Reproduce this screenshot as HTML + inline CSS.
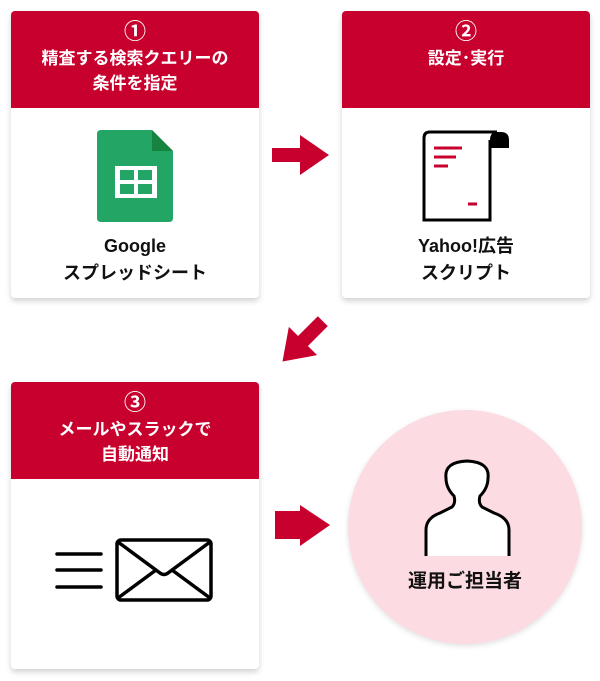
<!DOCTYPE html>
<html><head><meta charset="utf-8"><style>
body{margin:0;width:600px;height:681px;background:#fff;position:relative;overflow:hidden;font-family:"Liberation Sans","Noto Sans CJK JP",sans-serif;}
.card{position:absolute;width:248px;height:287px;background:#fff;border-radius:4px;box-shadow:0 3px 6px rgba(0,0,0,.18);overflow:hidden}
.hd{height:97px;background:#c8002d;color:#fff;font-weight:bold;font-size:17px;line-height:25px;text-align:center;box-sizing:border-box;padding-top:8px}
.hd .n{font-size:22px;line-height:25px}
.lbl{position:absolute;left:0;width:100%;text-align:center;font-weight:bold;font-size:18px;line-height:27px;color:#111}
svg{position:absolute}
</style></head><body>
<div class="card" style="left:11px;top:11px">
 <div class="hd"><span class="n">①</span><br>精査する検索クエリーの<br>条件を指定</div>
 <div class="lbl" style="top:222px">Google<br>スプレッドシート</div>
</div>
<div class="card" style="left:342px;top:11px">
 <div class="hd"><span class="n">②</span><br>設定･実行</div>
 <div class="lbl" style="top:222px">Yahoo!広告<br>スクリプト</div>
</div>
<div class="card" style="left:11px;top:382px">
 <div class="hd"><span class="n">③</span><br>メールやスラックで<br>自動通知</div>
</div>
<div style="position:absolute;left:348px;top:410px;width:234px;height:234px;border-radius:50%;background:#fcdbe2;box-shadow:0 2px 6px rgba(0,0,0,.12)"></div>
<div class="lbl" style="top:568px;left:348px;width:234px;font-size:19px">運用ご担当者</div>
<svg width="600" height="681" style="left:0;top:0">
 <path d="M100 130 H152 L173 151 V218 Q173 222 169 222 H101 Q97 222 97 218 V134 Q97 130 101 130Z" fill="#23a566"/>
 <path d="M152 130 L173 151 H152Z" fill="#16843f"/>
 <rect x="115" y="166" width="42" height="32" fill="#fff"/>
 <rect x="120" y="170" width="14" height="10" fill="#23a566"/><rect x="138" y="170" width="14" height="10" fill="#23a566"/>
 <rect x="120" y="184" width="14" height="10" fill="#23a566"/><rect x="138" y="184" width="14" height="10" fill="#23a566"/>
 <path d="M497 132 H430 Q424 132 424 138 V220 H490 V140" fill="none" stroke="#000" stroke-width="3"/>
 <path d="M490 132 H501 Q509 132 509 140 V148 H490 V140 Q490 132 497 132Z" fill="#000"/>
 <g stroke="#c8002d" stroke-width="3"><line x1="434" y1="148" x2="462" y2="148"/><line x1="434" y1="157" x2="456" y2="157"/><line x1="434" y1="166" x2="448" y2="166"/><line x1="468" y1="204" x2="477" y2="204"/></g>
 <polygon points="272,148 300,148 300,135 329,155 300,175 300,162 272,162" fill="#c8002d"/>
 <polygon points="275,511 300,511 300,505 330,525 300,546 300,539 275,539" fill="#c8002d"/>
 <g transform="translate(303,341) rotate(135)"><polygon points="-28,-7 0,-7 0,-20 29,0 0,20 0,7 -28,7" fill="#c8002d"/></g>
 <g stroke="#000" stroke-width="3.5" stroke-linecap="round" fill="none">
  <line x1="57" y1="554" x2="101" y2="554"/><line x1="57" y1="570" x2="101" y2="570"/><line x1="57" y1="587" x2="101" y2="587"/>
  <rect x="117" y="540" width="94" height="60" rx="4"/>
  <path d="M118 542 L160 573 Q164 576 168 573 L210 542 M118 598 L156 570 M210 598 L172 570"/>
 </g>
 <path d="M426 556 V530 Q426 518 440 513 L452 507 Q456 503 454 496 Q446 488 446 478 Q444 462 467 461 Q490 462 488 478 Q488 488 480 496 Q478 503 482 507 L494 513 Q509 518 509 530 V556" fill="#fff" stroke="#000" stroke-width="3"/>
 <rect x="420" y="557" width="95" height="8" fill="#fcdbe2"/>
</svg>
</body></html>
